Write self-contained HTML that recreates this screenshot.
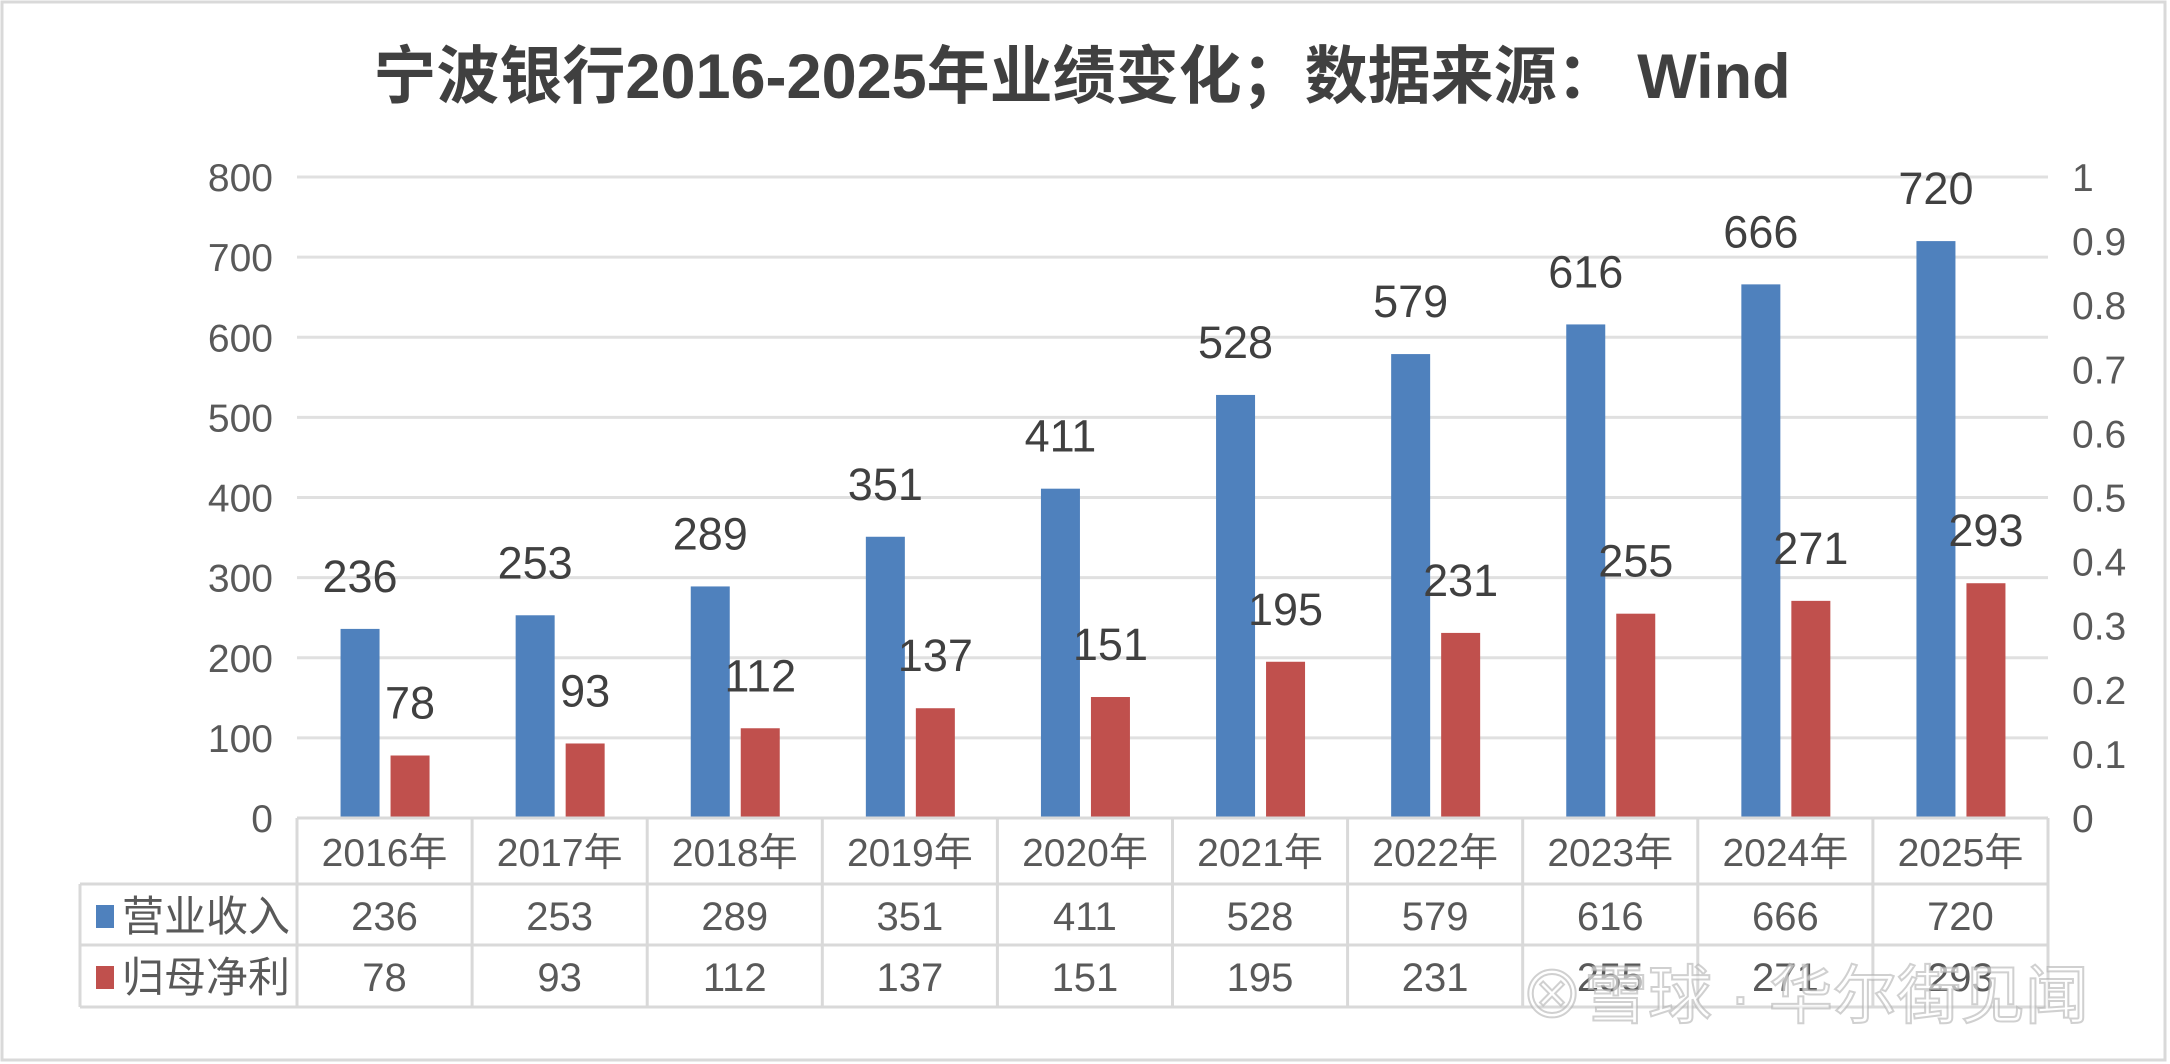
<!DOCTYPE html>
<html><head><meta charset="utf-8"><style>
html,body{margin:0;padding:0;background:#fff;}
svg{display:block;font-family:"Liberation Sans","Noto Sans CJK SC",sans-serif;}
</style></head><body>
<svg id="chart" width="2170" height="1064" viewBox="0 0 2170 1064" xmlns="http://www.w3.org/2000/svg">
<rect x="2" y="2" width="2163" height="1058" fill="#fff" stroke="#d9d9d9" stroke-width="3"/>
<text x="1082" y="98" text-anchor="middle" font-size="63" font-weight="bold" fill="#404040">宁波银行2016-2025年业绩变化；数据来源： Wind</text>
<g id="grid"></g><g id="bars"></g><g id="labels"></g><g id="table"></g>
</svg>
<script>
const categories=["2016年","2017年","2018年","2019年","2020年","2021年","2022年","2023年","2024年","2025年"];
const revenue=[236,253,289,351,411,528,579,616,666,720];
const profit=[78,93,112,137,151,195,231,255,271,293];
const leftTicks=[0,100,200,300,400,500,600,700,800];
const rightTicks=["0","0.1","0.2","0.3","0.4","0.5","0.6","0.7","0.8","0.9","1"];
const NS="http://www.w3.org/2000/svg";
const X0=297,X1=2048,Y0=818,Y1=177,YMAX=800;
const cw=(X1-X0)/categories.length;
const y=v=>Y0-(Y0-Y1)*v/YMAX;
const xc=i=>X0+cw*(i+0.5);
function mk(tag,attrs,parent,text){const e=document.createElementNS(NS,tag);for(const k in attrs)e.setAttribute(k,attrs[k]);if(text!==undefined)e.textContent=text;document.getElementById(parent).appendChild(e);return e;}
leftTicks.forEach(t=>{
  if(t>0){const l=mk('line',{x1:X0,x2:X1,y1:y(t),y2:y(t),stroke:'#e0e0e0','stroke-width':3},'grid');
  
  }
  const tx=mk('text',{x:273,y:y(t)+14,'text-anchor':'end','font-size':39,fill:'#595959'},'grid',String(t));
  
  
});
rightTicks.forEach((t,i)=>{
  const tx=mk('text',{x:2072,y:y(i*YMAX/10)+14,'text-anchor':'start','font-size':39,fill:'#595959'},'grid',t);
  
  
});
const bw=39;
categories.forEach((c,i)=>{
  const bx=xc(i)-44, rx=xc(i)+6;
  const b=mk('rect',{x:bx,y:y(revenue[i]),width:bw,height:Y0-y(revenue[i]),fill:'#4f81bd'},'bars');
  
  
  const r=mk('rect',{x:rx,y:y(profit[i]),width:bw,height:Y0-y(profit[i]),fill:'#c0504d'},'bars');
  
  
  const lb=mk('text',{x:bx+bw/2,y:y(revenue[i])-37,'text-anchor':'middle','font-size':45,fill:'#404040'},'labels',String(revenue[i]));
  
  
  const lr=mk('text',{x:rx+bw/2,y:y(profit[i])-37,'text-anchor':'middle','font-size':45,fill:'#404040'},'labels',String(profit[i]));
  
  
});
const TL=80, R0=Y0, R1=884, R2=945, R3=1007;
const st={stroke:'#d9d9d9','stroke-width':3};
[[X0,R0,X1,R0],[TL,R1,X1,R1],[TL,R2,X1,R2],[TL,R3,X1,R3],[TL,R1,TL,R3],[X1,R0,X1,R3]].forEach(a=>{
  const l=mk('line',Object.assign({x1:a[0],y1:a[1],x2:a[2],y2:a[3]},st),'table');
  
  
});
for(let i=0;i<categories.length;i++){
  const l=mk('line',Object.assign({x1:X0+cw*i,y1:R0,x2:X0+cw*i,y2:R3},st),'table');
  
  
}
categories.forEach((c,i)=>{
  const h=mk('text',{x:xc(i),y:866,'text-anchor':'middle','font-size':39,fill:'#595959'},'table',c);
  
  
  const a=mk('text',{x:xc(i),y:930,'text-anchor':'middle','font-size':40,fill:'#595959'},'table',String(revenue[i]));
  
  
  const b=mk('text',{x:xc(i),y:991,'text-anchor':'middle','font-size':40,fill:'#595959'},'table',String(profit[i]));
  
  
});
const k1=mk('rect',{x:96,y:905,width:18,height:23,fill:'#4f81bd'},'table');


const t1=mk('text',{x:122,y:931,'font-size':42,fill:'#595959'},'table','营业收入');


const k2=mk('rect',{x:96,y:966,width:18,height:23,fill:'#c0504d'},'table');


const t2=mk('text',{x:122,y:992,'font-size':42,fill:'#595959'},'table','归母净利');


const wm=mk('text',{x:1520,y:1018,'font-size':64,fill:'#ffffff',stroke:'#b0b0b0','stroke-width':2,'fill-opacity':0.6,'stroke-opacity':0.6},'table','⊗雪球 · 华尔街见闻');


</script>
</body></html>
